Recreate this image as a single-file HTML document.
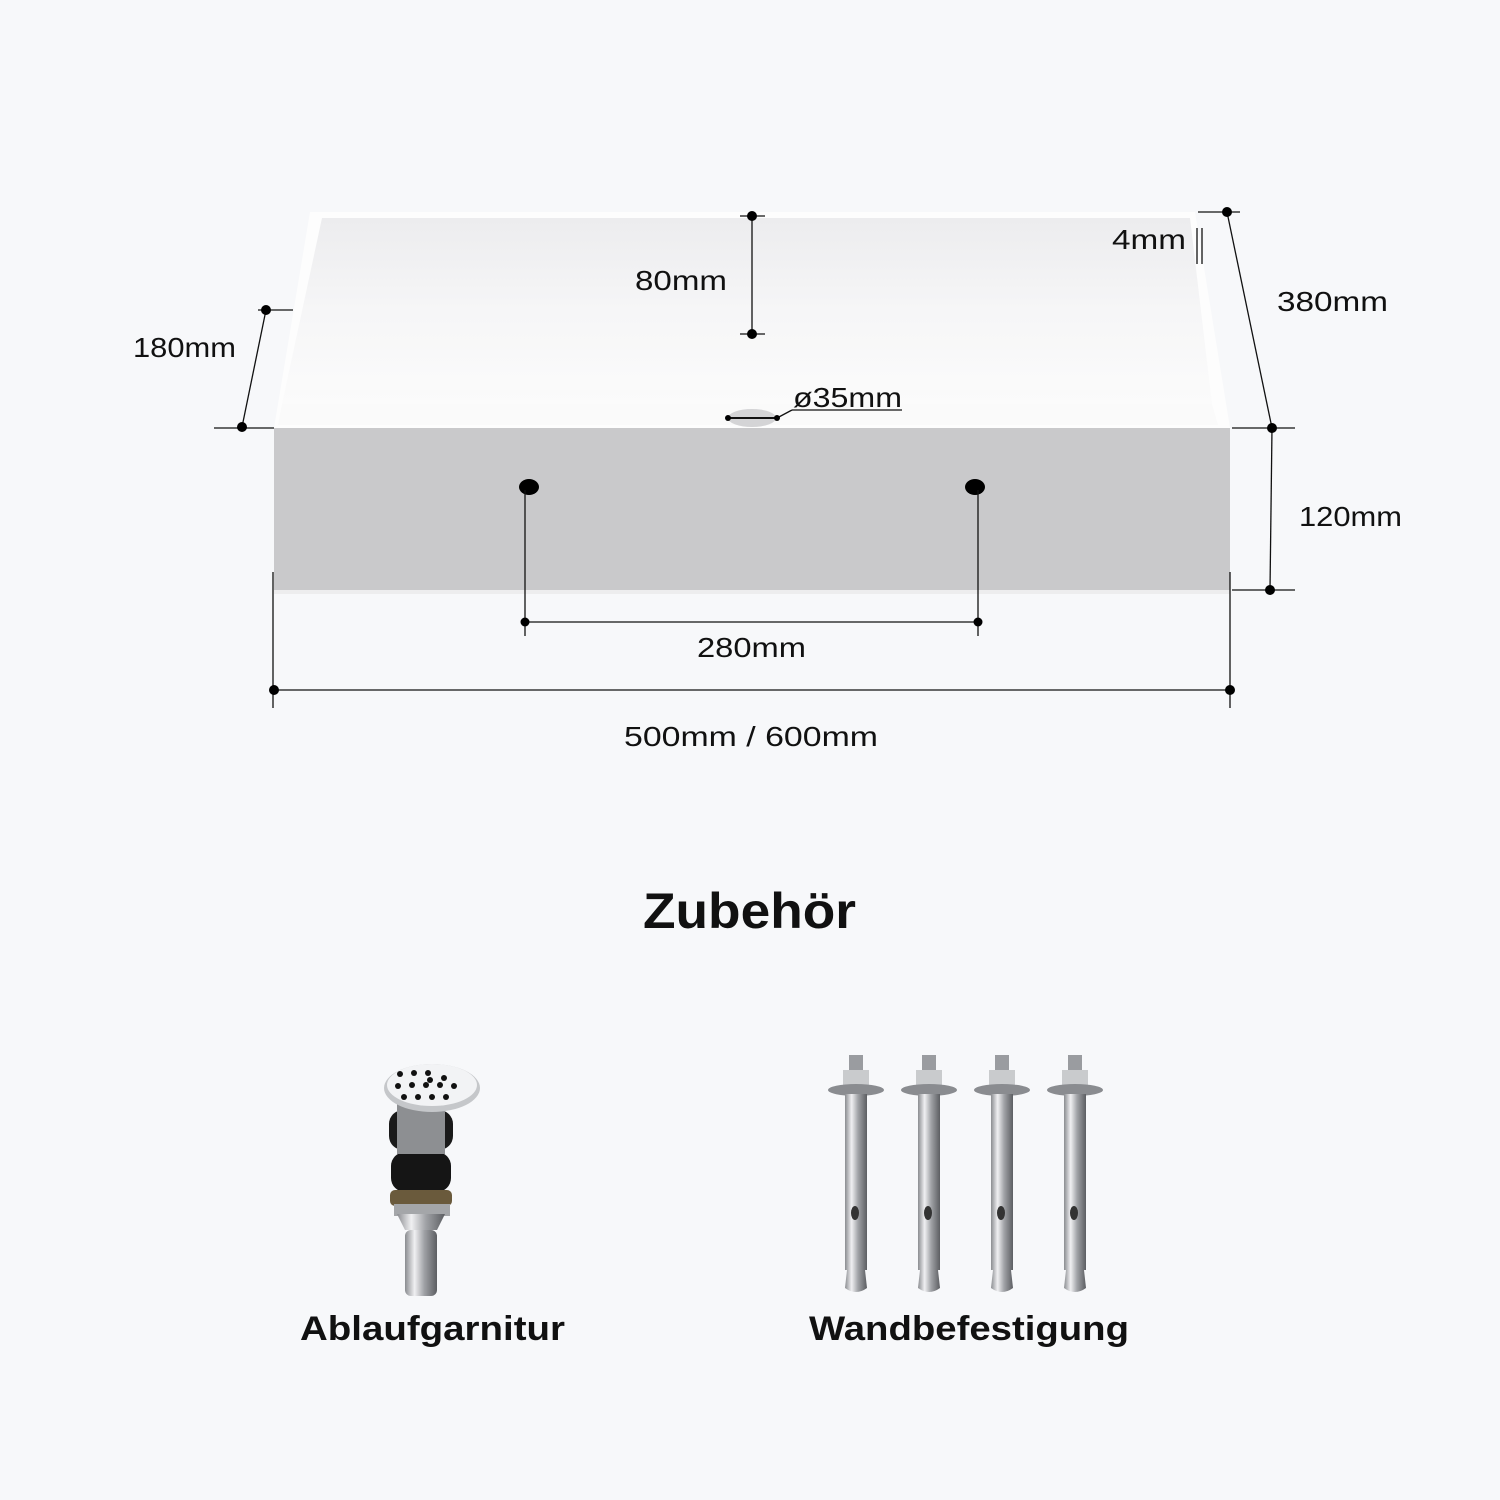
<!DOCTYPE html>
<html><head><meta charset="utf-8"><style>
html,body{margin:0;padding:0;background:#f7f8fa}
svg{display:block}
text{font-family:"Liberation Sans",sans-serif;fill:#111}
</style></head><body>
<svg width="1500" height="1500" viewBox="0 0 1500 1500" xmlns="http://www.w3.org/2000/svg">
<defs>
<linearGradient id="inner" x1="0" y1="0" x2="0" y2="1"><stop offset="0" stop-color="#ececee"/><stop offset="0.5" stop-color="#f6f6f7"/><stop offset="1" stop-color="#fbfbfb"/></linearGradient>
<linearGradient id="chrome" x1="0" y1="0" x2="1" y2="0"><stop offset="0" stop-color="#8a8c90"/><stop offset="0.3" stop-color="#f0f0f2"/><stop offset="0.6" stop-color="#a0a2a6"/><stop offset="1" stop-color="#5c5e62"/></linearGradient>
</defs>
<rect width="1500" height="1500" fill="#f7f8fa"/>
<polygon points="310,212 1195,212 1230,428 274,428" fill="#fdfdfd"/>
<polygon points="322,218 1190,218 1212,404 282,404" fill="url(#inner)"/>
<polygon points="282,404 1212,404 1218,425 278,425" fill="#fafafa"/>
<rect x="274" y="428" width="956" height="164" fill="#c9c9cb"/>
<rect x="274" y="590" width="956" height="4" fill="#ededee"/>
<ellipse cx="752" cy="418" rx="24" ry="9" fill="#d4d4d6"/>
<ellipse cx="529" cy="487" rx="10" ry="8" fill="#000"/>
<ellipse cx="975" cy="487" rx="10" ry="8" fill="#000"/>
<g stroke="#111" stroke-width="1.3" fill="none">
<line x1="752" y1="216" x2="752" y2="334"/><line x1="740" y1="216" x2="765" y2="216"/><line x1="740" y1="334" x2="765" y2="334"/>
<line x1="266" y1="310" x2="242" y2="427"/><line x1="258" y1="310" x2="293" y2="310"/><line x1="214" y1="428" x2="274" y2="428"/>
<line x1="1227" y1="212" x2="1272" y2="428"/><line x1="1198" y1="212" x2="1240" y2="212"/>
<line x1="1272" y1="428" x2="1270" y2="590"/><line x1="1232" y1="428" x2="1295" y2="428"/><line x1="1232" y1="590" x2="1295" y2="590"/>
<line x1="274" y1="690" x2="1230" y2="690"/><line x1="273" y1="572" x2="273" y2="708"/><line x1="1230" y1="572" x2="1230" y2="708"/>
<line x1="525" y1="622" x2="978" y2="622"/><line x1="525" y1="490" x2="525" y2="636"/><line x1="978" y1="490" x2="978" y2="636"/>
<line x1="728" y1="418" x2="777" y2="418" stroke-width="2"/><line x1="777" y1="418" x2="792" y2="410"/><line x1="792" y1="410" x2="902" y2="410"/>
<line x1="1197" y1="228" x2="1197" y2="264"/><line x1="1202" y1="228" x2="1202" y2="264"/>
</g>
<g fill="#000">
<circle cx="752" cy="216" r="5"/><circle cx="752" cy="334" r="5"/>
<circle cx="266" cy="310" r="5"/><circle cx="242" cy="427" r="5"/>
<circle cx="1227" cy="212" r="5"/><circle cx="1272" cy="428" r="5"/><circle cx="1270" cy="590" r="5"/>
<circle cx="274" cy="690" r="5"/><circle cx="1230" cy="690" r="5"/>
<circle cx="525" cy="622" r="4.5"/><circle cx="978" cy="622" r="4.5"/>
<circle cx="728" cy="418" r="3"/><circle cx="777" cy="418" r="3"/>
</g>
<g font-size="28">
<text x="635" y="290" textLength="92" lengthAdjust="spacingAndGlyphs">80mm</text>
<text x="1112" y="249" textLength="74" lengthAdjust="spacingAndGlyphs">4mm</text>
<text x="1277" y="311" textLength="111" lengthAdjust="spacingAndGlyphs">380mm</text>
<text x="133" y="357" textLength="103" lengthAdjust="spacingAndGlyphs">180mm</text>
<text x="793" y="407" textLength="109" lengthAdjust="spacingAndGlyphs">ø35mm</text>
<text x="1299" y="526" textLength="103" lengthAdjust="spacingAndGlyphs">120mm</text>
<text x="697" y="657" textLength="109" lengthAdjust="spacingAndGlyphs">280mm</text>
<text x="624" y="746" textLength="254" lengthAdjust="spacingAndGlyphs">500mm / 600mm</text>
</g>
<text x="643" y="928" font-size="50" font-weight="bold" textLength="213" lengthAdjust="spacingAndGlyphs">Zubehör</text>
<text x="300" y="1340" font-size="34" font-weight="bold" textLength="265" lengthAdjust="spacingAndGlyphs">Ablaufgarnitur</text>
<text x="809" y="1340" font-size="34" font-weight="bold" textLength="320" lengthAdjust="spacingAndGlyphs">Wandbefestigung</text>
<g>
<rect x="395" y="1190" width="50" height="20" fill="#2a2420"/>
<rect x="391" y="1152" width="60" height="40" rx="14" fill="#151515"/>
<rect x="389" y="1110" width="64" height="40" rx="14" fill="#1a1a1a"/>
<rect x="397" y="1104" width="48" height="50" fill="#8d8f92"/>
<rect x="390" y="1190" width="62" height="16" rx="5" fill="#6a5a3c"/>
<rect x="394" y="1204" width="56" height="12" fill="#a4a6a9"/>
<path d="M397 1214 L445 1214 L437 1230 L405 1230 Z" fill="url(#chrome)"/>
<rect x="405" y="1230" width="32" height="66" rx="6" fill="url(#chrome)"/>
<ellipse cx="432" cy="1088" rx="48" ry="24" fill="#c5c7ca"/>
<ellipse cx="432" cy="1085" rx="45" ry="21" fill="#f2f3f5"/>
<g fill="#111">
<circle cx="400" cy="1074" r="3"/><circle cx="414" cy="1073" r="3"/><circle cx="428" cy="1073" r="3"/>
<circle cx="398" cy="1086" r="3"/><circle cx="412" cy="1085" r="3"/><circle cx="426" cy="1085" r="3"/><circle cx="440" cy="1085" r="3"/><circle cx="454" cy="1086" r="3"/>
<circle cx="404" cy="1097" r="3"/><circle cx="418" cy="1097" r="3"/><circle cx="432" cy="1097" r="3"/><circle cx="446" cy="1097" r="3"/>
<circle cx="430" cy="1080" r="3"/><circle cx="444" cy="1078" r="3"/>
</g>
</g>
<g id="bolt">
<rect x="849" y="1055" width="14" height="20" fill="#9a9ca0"/>
<rect x="843" y="1070" width="26" height="16" fill="#c9cbcd"/>
<ellipse cx="856" cy="1090" rx="28" ry="6" fill="#8a8c90"/>
<rect x="845" y="1094" width="22" height="176" fill="url(#chrome)"/>
<path d="M847 1270 L865 1270 L867 1288 Q856 1296 845 1288 Z" fill="url(#chrome)"/>
<ellipse cx="855" cy="1213" rx="4" ry="7" fill="#333"/>
</g>
<use href="#bolt" x="73"/>
<use href="#bolt" x="146"/>
<use href="#bolt" x="219"/>
</svg>
</body></html>
